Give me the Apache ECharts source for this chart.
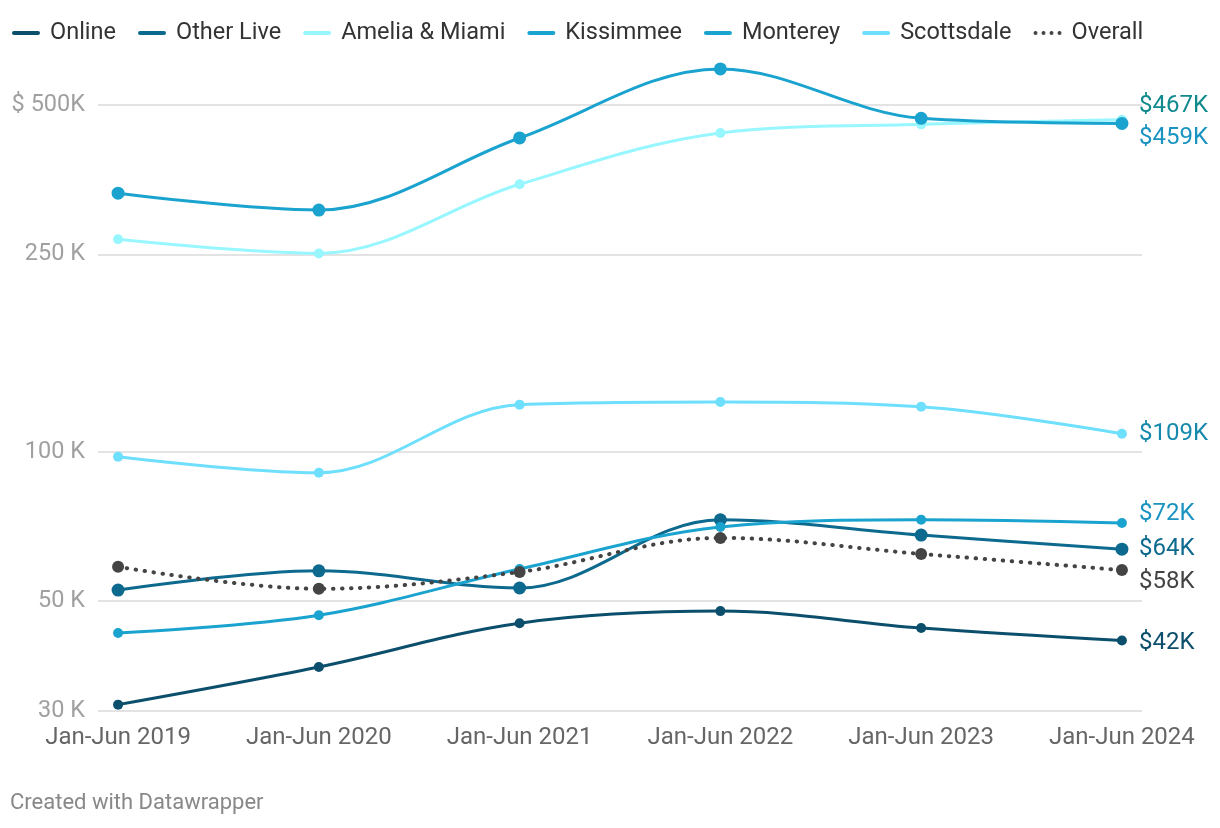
<!DOCTYPE html>
<html>
<head>
<meta charset="utf-8">
<script src="https://cdn.jsdelivr.net/npm/echarts@6/dist/echarts.min.js"></script>
<style>
html,body{margin:0;padding:0;background:#fff;}
#chart{width:1220px;height:828px;}
</style>
</head>
<body>
<div id="chart"></div>
<script>
const categories = ['Jan-Jun 2019','Jan-Jun 2020','Jan-Jun 2021','Jan-Jun 2022','Jan-Jun 2023','Jan-Jun 2024'];
const online     = [30900, 36800, 45100, 47700, 44100, 41600];
const otherLive  = [52600, 57500, 53100, 72900, 67900, 63600];
const amelia     = [268000, 251000, 346000, 439000, 457000, 467000];
const kissimmee  = [332000, 307000, 429000, 591000, 470000, 459000];
const monterey   = [43100, 46800, 58000, 70500, 72900, 71800];
const scottsdale = [97700, 90700, 124400, 125900, 123200, 108700];
const overall    = [58600, 52900, 57200, 67000, 62200, 57700];
const endLabels  = ['$42K','$64K','$467K','$459K','$72K','$109K','$58K'];
const yTicks     = [30000, 50000, 100000, 250000, 500000];
const yTickLabels = {30000:'30 K', 50000:'50 K', 100000:'100 K', 250000:'250 K', 500000:'$ 500K'};

const FONT = 'Roboto, "Noto Sans", sans-serif';
const specs = [
  {name:'Online', data:online, color:'#0b4f6c', label:'#0b4f6c', size:10, dy:2},
  {name:'Other Live', data:otherLive, color:'#0d6a8e', label:'#0d6a8e', size:13, dy:0},
  {name:'Amelia & Miami', data:amelia, color:'#98f6ff', label:'#118a8e', size:10, dy:-14},
  {name:'Kissimmee', data:kissimmee, color:'#1ba3cf', label:'#1a93c0', size:13, dy:15},
  {name:'Monterey', data:monterey, color:'#1ba3cf', label:'#1a93c0', size:10, dy:-9},
  {name:'Scottsdale', data:scottsdale, color:'#6edffd', label:'#1689ad', size:10, dy:0},
  {name:'Overall', data:overall, color:'#444444', label:'#444444', size:12, dy:12, dotted:true}
];

const barIcon = 'path://M2,0 L26,0 A2,2 0 0 1 26,4 L2,4 A2,2 0 0 1 2,0 Z';
const dotIcon = 'path://M2,0 A2,2 0 1 1 2,4 A2,2 0 1 1 2,0 Z M10,0 A2,2 0 1 1 10,4 A2,2 0 1 1 10,0 Z M18,0 A2,2 0 1 1 18,4 A2,2 0 1 1 18,0 Z M26,0 A2,2 0 1 1 26,4 A2,2 0 1 1 26,0 Z';

const series = specs.map((s, i) => ({
  name: s.name,
  type: 'line',
  smooth: 0.35,
  symbol: 'circle',
  symbolSize: s.size,
  showSymbol: true,
  data: s.data.map((v, j) => [j, v]),
  itemStyle: {color: s.color},
  lineStyle: s.dotted ? {color: s.color, width: 4, type: [0.5, 8.5], cap: 'round'} : {color: s.color, width: 3},
  emphasis: {disabled: true},
  endLabel: {
    show: true,
    formatter: endLabels[i],
    color: s.label,
    fontSize: 24,
    fontFamily: FONT,
    distance: 17,
    offset: [0, s.dy]
  },
  z: s.dotted ? 3 : 2
}));

const chart = echarts.init(document.getElementById('chart'));
chart.setOption({
  animation: false,
  backgroundColor: '#fff',
  textStyle: {fontFamily: FONT},
  legend: {
    left: 7, top: 16,
    itemWidth: 28, itemHeight: 4, itemGap: 22,
    textStyle: {fontSize: 23.5, color: '#333', fontFamily: FONT, padding: [0, 0, 0, 5]},
    data: specs.map(s => ({name: s.name, icon: s.dotted ? dotIcon : barIcon, itemStyle: {color: s.color}})),
    selectedMode: false
  },
  grid: {left: 98, right: 78, top: 65.7, bottom: 117, containLabel: false},
  xAxis: {
    type: 'value', min: -0.1, max: 5.1,
    axisLine: {show: false}, axisTick: {show: false, customValues: [0,1,2,3,4,5]},
    splitLine: {show: false},
    axisLabel: {
      customValues: [0,1,2,3,4,5],
      formatter: v => categories[Math.round(v)] || '',
      color: '#666', fontSize: 24, fontFamily: FONT, margin: 15
    }
  },
  yAxis: {
    type: 'log', min: 30000, max: 600000,
    axisLine: {show: false},
    axisTick: {show: false, customValues: yTicks},
    splitLine: {show: true, lineStyle: {color: '#e3e3e3', width: 2}},
    axisLabel: {
      customValues: yTicks,
      formatter: v => yTickLabels[Math.round(v)] || '',
      color: '#a0a0a0', fontSize: 23.5, fontFamily: FONT, margin: 13,
      padding: [4, 0, 0, 0]
    }
  },
  graphic: [{
    type: 'text', left: 10, top: 792,
    style: {text: 'Created with Datawrapper', fill: '#888', fontSize: 22, fontFamily: FONT}
  }],
  series: series
});
</script>
</body>
</html>
